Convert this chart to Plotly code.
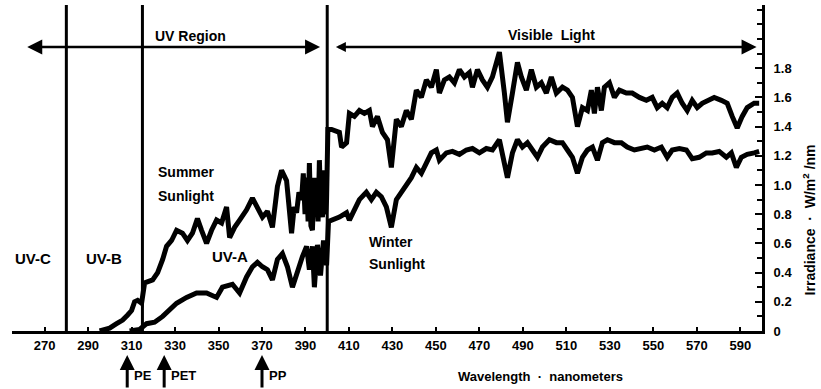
import plotly.graph_objects as go

# ---------------- data ----------------
summer_nm = [295.3, 299.9, 303.1, 305.9, 308.2, 310.0, 311.4, 312.8, 314.6, 316.0, 319.7, 322.0, 324.3,
             326.1, 328.4, 330.7, 333.4, 335.7, 338.0, 340.3, 342.2, 344.5, 346.8, 349.1, 351.4, 353.7,
             355.1, 357.4, 359.7, 362.9, 365.6, 367.9, 370.2, 372.5, 374.8, 377.1, 379.0, 381.3, 383.6,
             384.8, 385.9, 387.0, 388.2, 389.0, 389.8, 390.5, 391.2, 391.8, 392.5, 393.2, 394.0, 394.6,
             395.1, 395.8, 396.4, 397.0, 397.8, 398.5, 399.2, 399.7, 400.3,
             402.0, 405.6, 406.6, 408.9, 410.2, 412.5, 414.8, 417.1, 419.4, 420.8, 423.1, 425.4, 427.7,
             429.5, 431.8, 434.1, 436.4, 438.7, 441.0, 443.3, 445.6, 447.9, 450.2, 451.6, 453.9, 456.2,
             458.5, 460.8, 463.1, 465.4, 466.8, 469.1, 471.4, 473.7, 476.0, 479.2, 481.5, 482.9, 485.2,
             487.5, 489.3, 491.6, 493.9, 496.2, 498.5, 500.8, 503.1, 505.4, 508.2, 510.5, 512.8, 515.1,
             517.4, 519.7, 521.5, 522.9, 524.3, 526.1, 527.5, 529.8, 532.1, 534.4, 537.6, 540.3, 543.6,
             546.8, 549.5, 551.8, 554.1, 556.4, 558.7, 561.0, 563.3, 565.6, 567.9, 570.2, 572.5, 574.8,
             578.0, 581.3, 584.0, 586.3, 588.6, 590.9, 593.2, 596.4, 598.7]
summer_val = [0.00, 0.02, 0.05, 0.075, 0.11, 0.14, 0.20, 0.21, 0.19, 0.33, 0.35, 0.40, 0.49,
              0.58, 0.62, 0.69, 0.67, 0.62, 0.67, 0.77, 0.69, 0.60, 0.69, 0.76, 0.74, 0.85,
              0.64, 0.71, 0.76, 0.83, 0.91, 0.84, 0.78, 0.82, 0.71, 0.99, 1.10, 1.03, 0.67,
              0.85, 0.81, 0.95, 0.90, 1.08, 0.80, 1.05, 0.75, 1.15, 0.72, 0.69, 1.05, 0.80,
              1.01, 0.75, 1.17, 0.85, 0.78, 1.10, 0.80, 0.90, 1.38,
              1.38, 1.36, 1.26, 1.29, 1.49, 1.47, 1.51, 1.49, 1.51, 1.40, 1.47, 1.36, 1.31,
              1.12, 1.45, 1.40, 1.51, 1.45, 1.65, 1.60, 1.72, 1.67, 1.79, 1.63, 1.72, 1.74,
              1.70, 1.79, 1.74, 1.77, 1.67, 1.79, 1.72, 1.67, 1.74, 1.91, 1.63, 1.43, 1.63,
              1.84, 1.74, 1.65, 1.79, 1.67, 1.70, 1.63, 1.74, 1.63, 1.67, 1.65, 1.60, 1.40,
              1.53, 1.51, 1.65, 1.49, 1.67, 1.51, 1.67, 1.70, 1.60, 1.65, 1.63, 1.63, 1.60,
              1.58, 1.60, 1.53, 1.56, 1.53, 1.60, 1.63, 1.56, 1.51, 1.58, 1.53, 1.56, 1.58,
              1.60, 1.58, 1.56, 1.47, 1.39, 1.47, 1.53, 1.56, 1.56]

winter_nm = [309.1, 313.7, 316.9, 320.6, 324.3, 328.4, 330.7, 335.3, 339.9, 344.5, 349.1, 351.8,
             356.4, 359.7, 362.9, 365.6, 367.9, 370.2, 372.5, 374.8, 377.1, 379.4, 381.7, 384.0,
             386.3, 388.6, 390.5, 391.8, 393.2, 394.1, 395.5, 396.9, 398.3, 399.7, 400.6,
             402.4, 405.6, 408.9, 410.2, 412.5, 414.8, 418.0, 420.3, 422.6, 424.9, 427.2, 429.5,
             431.8, 434.1, 436.4, 438.7, 441.0, 443.3, 445.6, 447.9, 450.2, 451.6, 454.8, 457.6,
             460.8, 464.0, 466.8, 470.0, 473.2, 476.0, 479.2, 481.5, 482.9, 485.2, 487.5, 489.8,
             492.1, 494.4, 496.7, 499.0, 502.2, 505.4, 508.2, 510.5, 512.8, 515.1, 517.4, 519.7,
             522.0, 524.3, 526.6, 528.9, 532.1, 535.3, 538.0, 541.3, 544.5, 547.2, 550.5, 553.7,
             556.4, 558.7, 562.0, 565.2, 567.9, 571.1, 574.4, 577.1, 580.3, 583.6, 585.9, 588.2,
             590.5, 593.2, 596.4, 598.7]
winter_val = [0.00, 0.01, 0.05, 0.06, 0.10, 0.16, 0.19, 0.23, 0.26, 0.26, 0.23, 0.30,
              0.32, 0.26, 0.37, 0.44, 0.47, 0.44, 0.42, 0.35, 0.49, 0.53, 0.44, 0.30,
              0.42, 0.51, 0.58, 0.42, 0.58, 0.30, 0.59, 0.38, 0.62, 0.45, 0.75,
              0.76, 0.78, 0.81, 0.76, 0.83, 0.90, 0.95, 0.90, 0.95, 0.92, 0.85, 0.71,
              0.90, 0.95, 1.01, 1.05, 1.12, 1.08, 1.15, 1.22, 1.24, 1.17, 1.22, 1.23,
              1.21, 1.24, 1.25, 1.22, 1.25, 1.24, 1.31, 1.17, 1.05, 1.22, 1.31, 1.26,
              1.29, 1.24, 1.19, 1.26, 1.31, 1.29, 1.29, 1.24, 1.19, 1.08, 1.19, 1.24,
              1.26, 1.17, 1.29, 1.31, 1.29, 1.29, 1.26, 1.24, 1.25, 1.26, 1.24, 1.26,
              1.19, 1.24, 1.25, 1.24, 1.18, 1.19, 1.22, 1.22, 1.23, 1.19, 1.22, 1.12,
              1.19, 1.21, 1.22, 1.23]

x_ticks = [270, 290, 310, 330, 350, 370, 390, 410, 430, 450, 470, 490, 510, 530, 550, 570, 590]
y_ticks = [0, 0.2, 0.4, 0.6, 0.8, 1.0, 1.2, 1.4, 1.6, 1.8]
y_tick_text = ["0", "0.2", "0.4", "0.6", "0.8", "1.0", "1.2", "1.4", "1.6", "1.8"]
region_bounds = [280, 315, 400]
polymer_nm = {"PE": 308, "PET": 325, "PP": 370}

FONT = "Liberation Sans, Arial, sans-serif"
BLACK = "#000000"

fig = go.Figure()
fig.add_trace(go.Scatter(x=summer_nm, y=summer_val, mode="lines",
                         line=dict(color=BLACK, width=5), showlegend=False, hoverinfo="skip"))
fig.add_trace(go.Scatter(x=winter_nm, y=winter_val, mode="lines",
                         line=dict(color=BLACK, width=5), showlegend=False, hoverinfo="skip"))

for b in region_bounds:
    fig.add_shape(type="line", xref="x", yref="paper", x0=b, x1=b, y0=0, y1=1,
                  line=dict(color=BLACK, width=3))


def txt(text, x, y, xanchor="center", size=14, **kw):
    fig.add_annotation(text=text, x=x, y=y, xref="x", yref="y", showarrow=False,
                       xanchor=xanchor, yanchor="middle",
                       font=dict(family=FONT, size=size, color=BLACK, weight="bold"), **kw)


# region arrows
arrow_y = 1.945
fig.add_annotation(x=262, y=arrow_y, ax=397.4, ay=arrow_y, xref="x", yref="y", axref="x", ayref="y",
                   text="", showarrow=True, arrowside="end+start", arrowhead=2, startarrowhead=2,
                   arrowwidth=2.5, arrowsize=1.2, startarrowsize=1.2, arrowcolor=BLACK)
fig.add_annotation(x=597.5, y=arrow_y, ax=403.3, ay=arrow_y, xref="x", yref="y", axref="x", ayref="y",
                   text="", showarrow=True, arrowside="end+start", arrowhead=2, startarrowhead=2,
                   arrowwidth=2.5, arrowsize=1.2, startarrowsize=0.8, arrowcolor=BLACK)

txt("UV Region", 319.7, 2.02, xanchor="left")
txt("Visible  Light", 503.1, 2.03)
txt("UV-C", 264.5, 0.50, size=15)
txt("UV-B", 297.1, 0.50, size=15)
txt("UV-A", 355.1, 0.51, size=15)
txt("Summer", 321.3, 1.086, xanchor="left")
txt("Sunlight", 321.3, 0.925, xanchor="left")
txt("Winter", 418.3, 0.61, xanchor="left")
txt("Sunlight", 418.3, 0.46, xanchor="left")

# polymer sensitivity arrows below the axis
for name, nm in polymer_nm.items():
    fig.add_annotation(x=nm, y=0, xref="x", yref="y", yshift=-24, ax=0, ay=34,
                       text="", showarrow=True, arrowhead=2, arrowwidth=3, arrowsize=1,
                       arrowcolor=BLACK)
    fig.add_annotation(text=name, x=nm, y=0, xref="x", yref="y", xshift=5, yshift=-44,
                       showarrow=False, xanchor="left", yanchor="middle",
                       font=dict(family=FONT, size=13, color=BLACK, weight="bold"))

# axis titles
fig.add_annotation(text="Wavelength  \u00b7  nanometers", x=0.704, y=-0.14, xref="paper", yref="paper",
                   showarrow=False, xanchor="center", yanchor="middle",
                   font=dict(family=FONT, size=13, color=BLACK, weight="bold"))
fig.add_annotation(text="Irradiance  \u00b7  W/m<sup>2</sup> /nm", x=1.063, y=0.34, xref="paper", yref="paper",
                   showarrow=False, xanchor="center", yanchor="middle", textangle=-90,
                   font=dict(family=FONT, size=14, color=BLACK, weight="bold"))

fig.update_layout(
    width=821, height=389,
    margin=dict(l=12, r=59, t=5, b=58),
    paper_bgcolor="white", plot_bgcolor="white",
    font=dict(family=FONT, size=13, color=BLACK, weight="bold"),
    showlegend=False,
    xaxis=dict(range=[255, 600], tickvals=x_ticks, ticktext=[str(t) for t in x_ticks],
               showgrid=False, zeroline=False, showline=True, linecolor=BLACK, linewidth=3,
               ticks="inside", ticklen=4, tickwidth=2, tickcolor=BLACK,
               tickfont=dict(family=FONT, size=13, color=BLACK, weight="bold")),
    yaxis=dict(range=[0, 2.233], side="right", tickvals=y_ticks, ticktext=y_tick_text,
               showgrid=False, zeroline=False, showline=True, linecolor=BLACK, linewidth=3,
               ticks="inside", ticklen=7, tickwidth=2, tickcolor=BLACK, ticklabelstandoff=6,
               minor=dict(dtick=0.1, ticks="inside", ticklen=5, tickwidth=2, tickcolor=BLACK),
               tickfont=dict(family=FONT, size=13, color=BLACK, weight="bold")),
)

fig.write_html("out.html", config={"displayModeBar": False},
               post_script="document.body.style.margin='0px'; document.body.style.overflow='hidden';")
